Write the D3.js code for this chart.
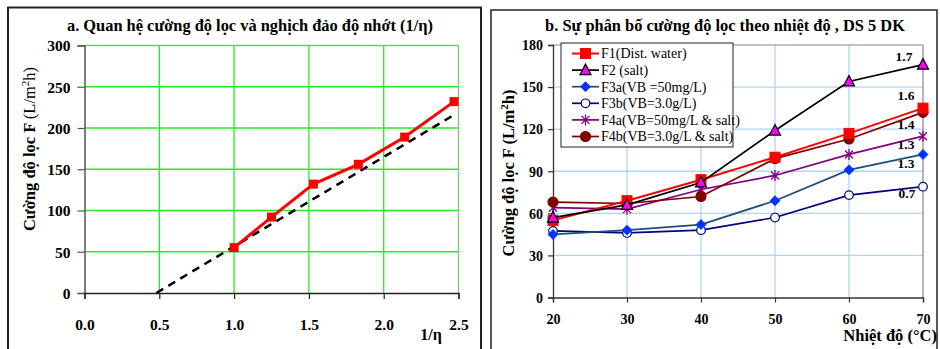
<!DOCTYPE html>
<html>
<head>
<meta charset="utf-8">
<script src="https://cdn.jsdelivr.net/npm/d3@7"></script>
<style>
  html, body { margin: 0; padding: 0; background: #fff; }
  svg { display: block; font-family: "Liberation Serif", "Times New Roman", serif; }
</style>
</head>
<body>
<svg id="chart" width="940" height="349"></svg>
<script>
// ---------- Data: chart a ----------
const invViscosity = [1.0, 1.25, 1.53, 1.83, 2.14, 2.47];
const fluxA = [55, 92, 132, 156, 189, 232];
const trendX = [0.48, 2.48];
const trendY = [0, 217];
const xTicksA = [0.0, 0.5, 1.0, 1.5, 2.0, 2.5];
const yTicksA = [0, 50, 100, 150, 200, 250, 300];

// ---------- Data: chart b ----------
const temperatures = [20, 30, 40, 50, 60, 70];
const seriesNames = ["F1(Dist. water)", "F2 (salt)", "F3a(VB =50mg/L)", "F3b(VB=3.0g/L)", "F4a(VB=50mg/L & salt)", "F4b(VB=3.0g/L & salt)"];
const F1 = [55, 69, 84, 100, 117, 135];
const F2 = [57, 66, 82, 119, 154, 166];
const F3a = [45, 48, 52, 69, 91, 102];
const F3b = [47.5, 46, 48, 57, 73, 79];
const F4a = [64, 63, 77, 87, 102, 115];
const F4b = [68, 67, 72, 99, 113, 132];
const endLabels = ["1.6", "1.7", "1.3", "0.7", "1.3", "1.4"];
const xTicksB = [20, 30, 40, 50, 60, 70];
const yTicksB = [0, 30, 60, 90, 120, 150, 180];

const svg = d3.select("#chart");

// ---------- Panel frames ----------
svg.append("rect").attr("x", 8).attr("y", 7.5).attr("width", 473).attr("height", 345)
  .attr("fill", "none").attr("stroke", "#222").attr("stroke-width", 2);
svg.append("rect").attr("x", 491).attr("y", 10).attr("width", 446).attr("height", 345)
  .attr("fill", "none").attr("stroke", "#222").attr("stroke-width", 1.5);

// ================= Chart a =================
const xa = d3.scaleLinear().domain([0, 2.5]).range([84.5, 458.5]);
const ya = d3.scaleLinear().domain([0, 300]).range([293, 45.5]);
const ga = svg.append("g");

// gridlines
ga.append("g").selectAll("line").data(yTicksA.filter(d => d > 0)).join("line")
  .attr("x1", xa(0)).attr("x2", xa(2.5)).attr("y1", d => ya(d)).attr("y2", d => ya(d))
  .attr("stroke", d => d === 300 ? "#7dbf7d" : "#22ee22").attr("stroke-width", 1.3);
ga.append("g").selectAll("line").data(xTicksA.filter(d => d > 0)).join("line")
  .attr("x1", d => xa(d)).attr("x2", d => xa(d)).attr("y1", ya(0)).attr("y2", ya(300))
  .attr("stroke", d => d === 2.5 ? "#7dbf7d" : "#22ee22").attr("stroke-width", 1.3);

// axes
const yAxisA = d3.axisLeft(ya).tickValues(yTicksA).tickSize(7).tickFormat(d3.format("d"));
const yA = ga.append("g").attr("transform", `translate(${xa(0)},0)`).call(yAxisA);
yA.select(".domain").attr("stroke", "#555").attr("stroke-width", 1.5);
yA.selectAll(".tick line").attr("stroke", "#555").attr("stroke-width", 1.2);
yA.selectAll("text").attr("font-size", 15.5).attr("font-weight", "bold").attr("fill", "#000")
  .attr("font-family", "Liberation Serif").attr("x", -14).attr("dy", "0.34em");

const xAxisA = d3.axisBottom(xa).tickValues(xTicksA).tickSize(6).tickFormat(d3.format(".1f"));
const xA = ga.append("g").attr("transform", `translate(0,${ya(0)})`).call(xAxisA);
xA.select(".domain").attr("stroke", "#222").attr("stroke-width", 1.3);
xA.selectAll(".tick line").attr("stroke", "#222").attr("stroke-width", 1.2);
xA.selectAll("text").attr("font-size", 15.5).attr("font-weight", "bold").attr("fill", "#000")
  .attr("font-family", "Liberation Serif").attr("y", 0).attr("dy", 37);

// trend line (dashed)
ga.append("path")
  .datum(trendX.map((x, i) => [x, trendY[i]]))
  .attr("d", d3.line().x(d => xa(d[0])).y(d => ya(d[1])))
  .attr("fill", "none").attr("stroke", "#000").attr("stroke-width", 2.5)
  .attr("stroke-dasharray", "8,6");

// red data
const ptsA = invViscosity.map((x, i) => [x, fluxA[i]]);
ga.append("path").datum(ptsA)
  .attr("d", d3.line().x(d => xa(d[0])).y(d => ya(d[1])))
  .attr("fill", "none").attr("stroke", "#ff0000").attr("stroke-width", 3);
ga.append("g").selectAll("rect").data(ptsA).join("rect")
  .attr("x", d => xa(d[0]) - 4.5).attr("y", d => ya(d[1]) - 4.5)
  .attr("width", 9).attr("height", 9).attr("fill", "#ff0000");

// titles
ga.append("text").attr("x", 250).attr("y", 31).attr("text-anchor", "middle")
  .attr("font-size", 16.4).attr("font-weight", "bold")
  .text("a. Quan hệ cường độ lọc và nghịch đảo độ nhớt (1/η)");
ga.append("text").attr("x", 431).attr("y", 340).attr("text-anchor", "middle")
  .attr("font-size", 16).attr("font-weight", "bold").text("1/η");

const ytA = ga.append("text").attr("transform", "translate(35,149) rotate(-90)")
  .attr("text-anchor", "middle").attr("font-size", 16.5);
ytA.append("tspan").attr("font-weight", "bold").text("Cường độ lọc F ");
ytA.append("tspan").text("(L/m");
ytA.append("tspan").attr("font-size", 11).attr("dy", -6).text("2");
ytA.append("tspan").attr("dy", 6).text("h)");

// ================= Chart b =================
const xb = d3.scaleLinear().domain([20, 70]).range([553, 923]);
const yb = d3.scaleLinear().domain([0, 180]).range([297.5, 45]);
const gb = svg.append("g");

gb.append("g").selectAll("line").data(yTicksB.filter(d => d > 0 && d < 180)).join("line")
  .attr("x1", xb(20)).attr("x2", xb(70)).attr("y1", d => yb(d)).attr("y2", d => yb(d))
  .attr("stroke", "#b0d4f5").attr("stroke-width", 1.3);
gb.append("g").selectAll("line").data(xTicksB.filter(d => d > 20 && d < 70)).join("line")
  .attr("x1", d => xb(d)).attr("x2", d => xb(d)).attr("y1", yb(0)).attr("y2", yb(180))
  .attr("stroke", "#b0d4f5").attr("stroke-width", 1.3);
// plot border top/right
gb.append("path")
  .attr("d", `M${xb(20)},${yb(180)}H${xb(70)}V${yb(0)}`)
  .attr("fill", "none").attr("stroke", "#888").attr("stroke-width", 1.2);

const yAxisB = d3.axisLeft(yb).tickValues(yTicksB).tickSize(5).tickFormat(d3.format("d"));
const yB = gb.append("g").attr("transform", `translate(${xb(20)},0)`).call(yAxisB);
yB.select(".domain").attr("stroke", "#333").attr("stroke-width", 1.3);
yB.selectAll(".tick line").attr("stroke", "#333").attr("stroke-width", 1.2);
yB.selectAll("text").attr("font-size", 14).attr("font-weight", "bold").attr("fill", "#000")
  .attr("font-family", "Liberation Serif").attr("x", -10).attr("dy", "0.34em");

const xAxisB = d3.axisBottom(xb).tickValues(xTicksB).tickSize(5).tickFormat(d3.format("d"));
const xB = gb.append("g").attr("transform", `translate(0,${yb(0)})`).call(xAxisB);
xB.select(".domain").attr("stroke", "#333").attr("stroke-width", 1.3);
xB.selectAll(".tick line").attr("stroke", "#333").attr("stroke-width", 1.2);
xB.selectAll("text").attr("font-size", 14).attr("font-weight", "bold").attr("fill", "#000")
  .attr("font-family", "Liberation Serif").attr("y", 0).attr("dy", 26);

// series
const seriesData = [F1, F2, F3a, F3b, F4a, F4b];
const lineColors = ["#ff0000", "#000000", "#1a4f7a", "#000080", "#800080", "#800000"];
const markerFill = ["#ff0000", "#ff00ff", "#0033ff", "#ffffff", "none", "#800000"];
const markerStroke = ["#ff0000", "#000000", "#0033ff", "#000080", "#800080", "#800000"];
const markerType = ["square", "triangle", "diamond", "circle", "star", "circle"];

function drawMarker(g, type, cx, cy, i) {
  if (type === "square") {
    g.append("rect").attr("x", cx - 5).attr("y", cy - 5).attr("width", 10).attr("height", 10)
      .attr("fill", markerFill[i]).attr("stroke", markerStroke[i]).attr("stroke-width", 1);
  } else if (type === "triangle") {
    g.append("path").attr("d", `M${cx},${cy - 6}L${cx + 5.5},${cy + 4.5}L${cx - 5.5},${cy + 4.5}Z`)
      .attr("fill", markerFill[i]).attr("stroke", markerStroke[i]).attr("stroke-width", 1.2);
  } else if (type === "diamond") {
    g.append("path").attr("d", `M${cx},${cy - 5}L${cx + 5},${cy}L${cx},${cy + 5}L${cx - 5},${cy}Z`)
      .attr("fill", markerFill[i]).attr("stroke", markerStroke[i]).attr("stroke-width", 0.8);
  } else if (type === "circle") {
    g.append("circle").attr("cx", cx).attr("cy", cy).attr("r", markerFill[i] === "#ffffff" ? 4.3 : 5)
      .attr("fill", markerFill[i]).attr("stroke", markerStroke[i]).attr("stroke-width", 1.2);
  } else if (type === "star") {
    const r = 5.5, s = 4;
    g.append("path").attr("d", `M${cx - s},${cy - s}L${cx + s},${cy + s}M${cx - s},${cy + s}L${cx + s},${cy - s}M${cx},${cy - r}L${cx},${cy + r}`)
      .attr("fill", "none").attr("stroke", markerStroke[i]).attr("stroke-width", 1.3);
  }
}

const lineB = d3.line().x((d, j) => xb(temperatures[j])).y(d => yb(d));
const drawOrder = [3, 2, 4, 5, 0, 1];
drawOrder.forEach(i => {
  const g = gb.append("g");
  g.append("path").datum(seriesData[i]).attr("d", lineB)
    .attr("fill", "none").attr("stroke", lineColors[i]).attr("stroke-width", i === 0 ? 2 : 1.7);
  seriesData[i].forEach((v, j) => drawMarker(g, markerType[i], xb(temperatures[j]), yb(v), i));
});

// end labels
const labelDy = [-8, -4, 14, 11, 13, 17];
const labelDx = [-17, -19, -17, -16, -17, -17];
seriesData.forEach((s, i) => {
  gb.append("text")
    .attr("x", xb(70) + labelDx[i]).attr("y", yb(s[s.length - 1]) + labelDy[i])
    .attr("text-anchor", "middle").attr("font-size", 13.5).attr("font-weight", "bold")
    .text(endLabels[i]);
});

// legend
const lg = gb.append("g");
lg.append("rect").attr("x", 561).attr("y", 43).attr("width", 172).attr("height", 104)
  .attr("fill", "#fff").attr("stroke", "#222").attr("stroke-width", 1);
seriesNames.forEach((name, i) => {
  const cy = 53.5 + i * 16.6;
  lg.append("line").attr("x1", 572).attr("x2", 599).attr("y1", cy).attr("y2", cy)
    .attr("stroke", lineColors[i]).attr("stroke-width", i === 0 ? 2 : 1.7);
  drawMarker(lg, markerType[i], 585.5, cy, i);
  lg.append("text").attr("x", 601).attr("y", cy).attr("dy", "0.35em")
    .attr("font-size", 14).text(name);
});

// titles
gb.append("text").attr("x", 725).attr("y", 31).attr("text-anchor", "middle")
  .attr("font-size", 16.4).attr("font-weight", "bold")
  .text("b. Sự phân bố cường độ lọc theo nhiệt độ , DS 5 DK");
gb.append("text").attr("x", 937).attr("y", 341).attr("text-anchor", "end")
  .attr("font-size", 16.5).attr("font-weight", "bold").text("Nhiệt độ (°C)");

const ytB = gb.append("text").attr("transform", "translate(514,173) rotate(-90)")
  .attr("text-anchor", "middle").attr("font-size", 16.5).attr("font-weight", "bold");
ytB.append("tspan").text("Cường độ lọc F (L/m");
ytB.append("tspan").attr("font-size", 11).attr("dy", -6).text("2");
ytB.append("tspan").attr("dy", 6).text("h)");
</script>
</body>
</html>
